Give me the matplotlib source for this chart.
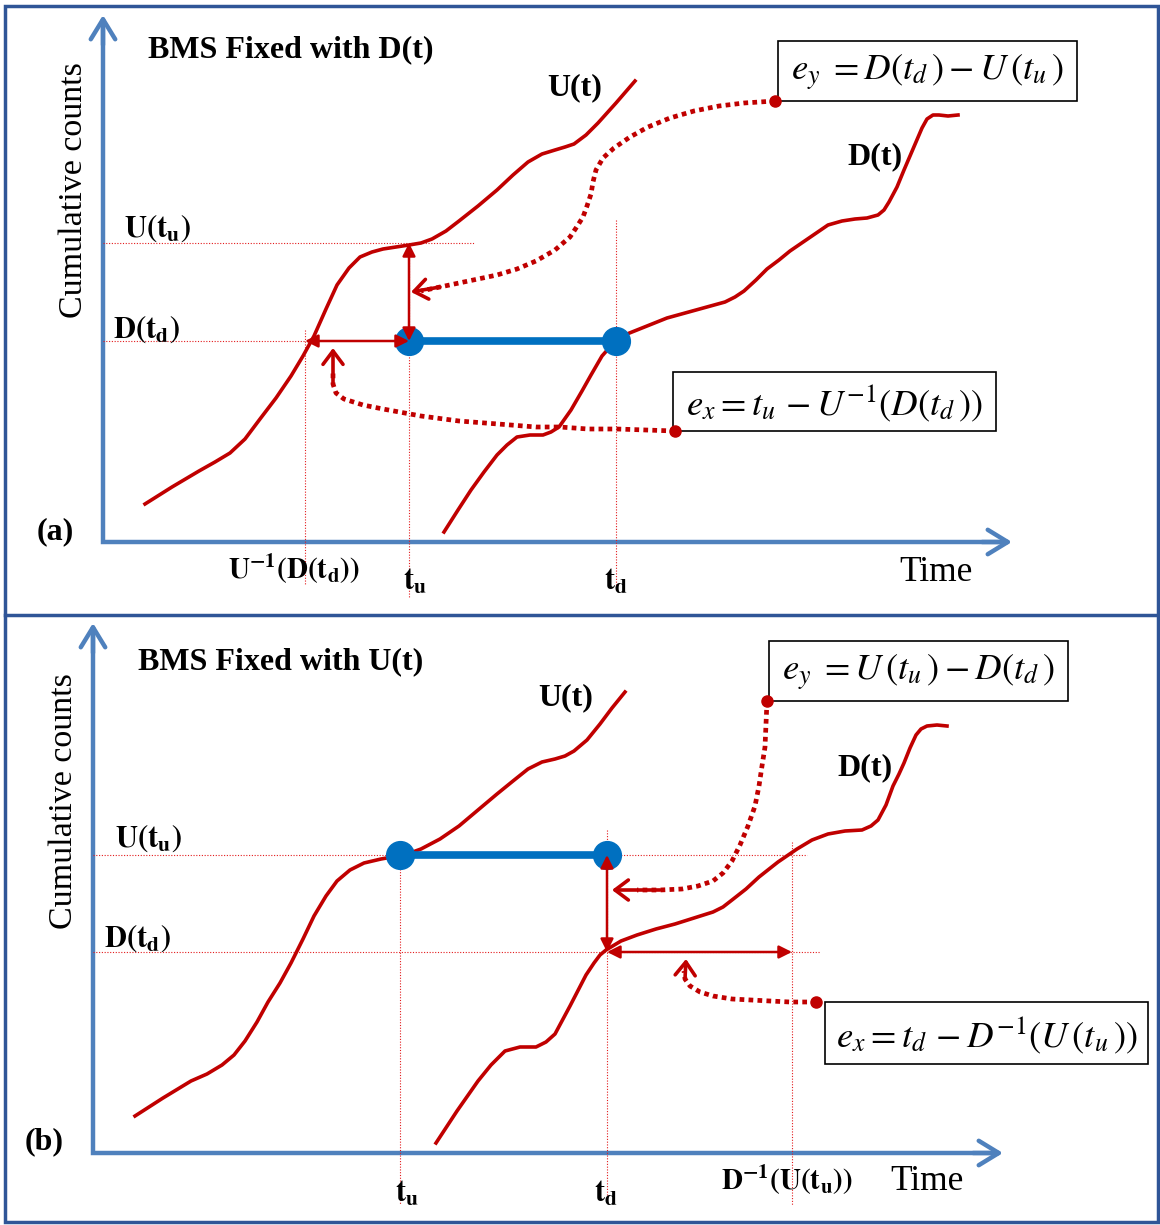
import matplotlib.pyplot as plt
from matplotlib.patches import Rectangle

# ---- curve points (pixel space, y down) ----
# panel (a)
ua_x = [145, 172, 199, 215, 230, 245, 260, 276, 291, 303, 314, 326, 337, 349, 360, 372, 383, 396, 409, 421, 432, 446, 459, 478, 497, 513, 528, 542, 555, 565, 574, 586, 598, 616, 635]
ua_y = [504, 487, 471, 462, 453, 439, 419, 398, 376, 356, 336, 309, 285, 268, 257, 252, 249, 247, 245, 243, 239, 231, 221, 206, 190, 175, 162, 154, 150, 147, 144, 135, 123, 103, 81]
da_x = [444, 458, 471, 484, 497, 507, 517, 530, 543, 551, 559, 571, 582, 591, 602, 610, 617, 627, 637, 652, 667, 696, 725, 735, 744, 756, 767, 779, 790, 809, 828, 842, 855, 867, 878, 884, 889, 897, 904, 910, 916, 922, 927, 933, 939, 948, 958]
da_y = [532, 510, 490, 472, 455, 445, 437, 435, 435, 432, 427, 410, 391, 375, 356, 347, 340, 334, 330, 324, 318, 310, 302, 297, 291, 280, 269, 260, 251, 238, 225, 221, 219, 218, 215, 210, 202, 187, 170, 156, 142, 128, 119, 115, 115, 116, 115]
# panel (b)
ub_x = [135, 163, 191, 207, 222, 234, 245, 257, 268, 280, 291, 303, 314, 326, 337, 350, 364, 381, 398, 410, 421, 440, 459, 478, 497, 513, 528, 542, 555, 565, 574, 587, 600, 612, 625]
ub_y = [1116, 1098, 1081, 1074, 1065, 1055, 1041, 1022, 1002, 983, 963, 939, 916, 896, 881, 870, 863, 859, 856, 853, 849, 839, 826, 810, 794, 781, 769, 762, 759, 756, 751, 740, 724, 708, 692]
db_x = [436, 457, 478, 491, 505, 520, 536, 546, 555, 570, 586, 594, 600, 606, 621, 637, 656, 675, 694, 713, 723, 732, 746, 759, 778, 797, 812, 828, 845, 862, 871, 878, 886, 893, 899, 904, 910, 916, 921, 927, 937, 947]
db_y = [1143, 1111, 1081, 1065, 1051, 1047, 1047, 1042, 1034, 1006, 975, 963, 955, 950, 941, 935, 929, 924, 918, 912, 907, 900, 889, 877, 862, 849, 840, 834, 831, 830, 826, 820, 805, 786, 774, 763, 748, 735, 729, 726, 725, 726]

# dotted connector paths (from the box dot to the arrow tip)
cya_x = [775, 744, 719, 694, 670, 648, 630, 614, 603, 596, 593, 591, 587, 583, 576, 570, 555, 536, 517, 497, 478, 459, 440, 421, 411]
cya_y = [101, 103, 106, 111, 118, 127, 137, 148, 158, 170, 182, 194, 206, 217, 228, 237, 250, 261, 269, 275, 279, 283, 287, 291, 292]
cxa_x = [675, 646, 617, 588, 560, 536, 498, 459, 421, 383, 363, 344, 336, 333, 333, 333]
cxa_y = [431, 430, 429, 429, 427, 427, 424, 421, 416, 409, 405, 399, 393, 384, 370, 348]
cyb_x = [767, 766, 765, 762, 759, 755, 748, 740, 732, 723, 713, 698, 682, 660, 637, 612]
cyb_y = [701, 724, 747, 766, 786, 806, 826, 845, 861, 873, 881, 886, 889, 890, 890, 890]
cxb_x = [816, 790, 770, 751, 732, 713, 700, 690, 685, 684, 686]
cxb_y = [1002, 1002, 1001, 1000, 999, 996, 992, 986, 979, 971, 959]

# key levels / times
a_Utu, a_Dtd, a_inv, a_tu, a_td = 243, 341, 305, 409, 616
b_Utu, b_Dtd, b_tu, b_td, b_inv = 855, 952, 400, 607, 792

red = '#C00000'
ref_red = '#E31A1C'
blue = '#0070C0'
axblue = '#4F81BD'
frame = '#2F5597'

plt.rcParams['mathtext.fontset'] = 'stix'
serif = ['Liberation Serif', 'DejaVu Serif']

fig = plt.figure(figsize=(11.6, 12.25), dpi=100)
ax = fig.add_axes([0, 0, 1, 1])
ax.set_xlim(0, 1160)
ax.set_ylim(1225, 0)
ax.axis('off')

# outer frame and divider
ax.add_patch(Rectangle((5, 6), 1153, 1216, fill=False, ec=frame, lw=2.5))
ax.plot([5, 1158], [615, 615], color=frame, lw=2.5)


def axes_arrows(x0, y0, ytop, xright):
    ax.plot([x0, x0, xright - 4], [ytop + 4, y0, y0], color=axblue, lw=3.2,
            solid_joinstyle='miter', solid_capstyle='butt')
    st = '->,head_length=0.9,head_width=0.55'
    ax.annotate('', xy=(x0, ytop), xytext=(x0, ytop + 30),
                arrowprops=dict(arrowstyle=st, color=axblue, lw=3.2,
                                mutation_scale=16, shrinkA=0, shrinkB=0))
    ax.annotate('', xy=(xright, y0), xytext=(xright - 30, y0),
                arrowprops=dict(arrowstyle=st, color=axblue, lw=3.2,
                                mutation_scale=16, shrinkA=0, shrinkB=0))


def ref(xs, ys):
    ax.plot(xs, ys, color=ref_red, lw=0.8, ls=(0, (1, 1.5)))


def solid_arrow(p0, p1):
    ax.annotate('', xy=p1, xytext=p0,
                arrowprops=dict(arrowstyle='<|-|>,head_length=0.7,head_width=0.35',
                                color=red, lw=1.8, mutation_scale=11,
                                shrinkA=0, shrinkB=0))


def connector(xs, ys):
    ax.plot(xs[:-1], ys[:-1], color=red, lw=3.4, ls=(0, (1, 0.9)),
            dash_capstyle='butt')
    ax.plot(xs[0], ys[0], 'o', color=red, ms=8)
    ax.annotate('', xy=(xs[-1], ys[-1]), xytext=(xs[-3], ys[-3]),
                arrowprops=dict(arrowstyle='->,head_length=0.6,head_width=0.45',
                                color=red, lw=2.6, mutation_scale=16,
                                shrinkA=0, shrinkB=0))


def eqbox(x0, y0, x1, y1, s):
    ax.add_patch(Rectangle((x0, y0), x1 - x0, y1 - y0, fill=False, ec='black', lw=1.2))
    ax.text((x0 + x1) / 2, (y0 + y1) / 2 + 2, s, fontsize=26.5, ha='center', va='center')


def bold(x, y, s, size=23, va='baseline'):
    ax.text(x, y, s, fontsize=size, fontweight='bold', family=serif, ha='left', va=va)


# ================= panel (a) =================
axes_arrows(103, 542, 15, 1012)
ref([103, 475], [a_Utu, a_Utu])
ref([103, a_inv], [a_Dtd, a_Dtd])
ref([a_inv, a_inv], [330, 585])
ref([a_tu, a_tu], [a_Utu, 598])
ref([a_td, a_td], [220, 590])

ax.plot(ua_x, ua_y, color=red, lw=2.6, solid_joinstyle='round')
ax.plot(da_x, da_y, color=red, lw=2.6, solid_joinstyle='round')

ax.plot([a_tu, a_td], [a_Dtd, a_Dtd], color=blue, lw=5.5, marker='o', ms=20)
solid_arrow((a_tu, a_Dtd), (a_tu, a_Utu))
solid_arrow((a_inv, a_Dtd), (a_tu, a_Dtd))
connector(cya_x, cya_y)
connector(cxa_x, cxa_y)

eqbox(778, 41, 1077, 101, r'$e_y\;=D(t_d\,)-U\,(t_u\,)$')
eqbox(673, 372, 996, 431, r'$e_x=t_u\,-U^{-1}(D(t_d\,))$')

bold(148, 50, 'BMS Fixed with D(t)', va='center')
ax.text(74, 190, 'Cumulative counts', fontsize=24.5, family=serif, rotation=90,
        ha='center', va='center')
bold(547, 88, 'U(t)', va='center')
bold(847, 157, 'D(t)', va='center')
bold(124, 237, r'$\mathbf{U(t_u)}$', size=22)
bold(113, 338, r'$\mathbf{D(t_d)}$', size=22)
bold(37, 532, '(a)', va='center')
bold(228, 579, r'$\mathbf{U^{-1}(D(t_d))}$', size=21)
bold(403, 589, r'$\mathbf{t_u}$', size=22)
bold(604, 589, r'$\mathbf{t_d}$', size=22)
ax.text(899, 581, 'Time', fontsize=25.5, family=serif, ha='left', va='baseline')

# ================= panel (b) =================
axes_arrows(93, 1153, 623, 1003)
ref([93, 807], [b_Utu, b_Utu])
ref([93, 820], [b_Dtd, b_Dtd])
ref([b_tu, b_tu], [b_Utu, 1205])
ref([b_td, b_td], [830, 1200])
ref([b_inv, b_inv], [842, 1205])

ax.plot(ub_x, ub_y, color=red, lw=2.6, solid_joinstyle='round')
ax.plot(db_x, db_y, color=red, lw=2.6, solid_joinstyle='round')

ax.plot([b_tu, b_td], [b_Utu, b_Utu], color=blue, lw=5.5, marker='o', ms=20)
solid_arrow((b_td, b_Dtd), (b_td, b_Utu))
solid_arrow((b_td, b_Dtd), (b_inv, b_Dtd))
connector(cyb_x, cyb_y)
connector(cxb_x, cxb_y)

eqbox(769, 641, 1068, 701, r'$e_y\;=U\,(t_u\,)-D(t_d\,)$')
eqbox(825, 1002, 1148, 1064, r'$e_x=t_d\,-D^{-1}(U\,(t_u\,))$')

bold(138, 662, 'BMS Fixed with U(t)', va='center')
ax.text(64, 801, 'Cumulative counts', fontsize=24.5, family=serif, rotation=90,
        ha='center', va='center')
bold(538, 698, 'U(t)', va='center')
bold(837, 768, 'D(t)', va='center')
bold(115, 847, r'$\mathbf{U(t_u)}$', size=22)
bold(104, 947, r'$\mathbf{D(t_d)}$', size=22)
bold(25, 1142, '(b)', va='center')
bold(395, 1202, r'$\mathbf{t_u}$', size=22)
bold(594, 1202, r'$\mathbf{t_d}$', size=22)
bold(721, 1190, r'$\mathbf{D^{-1}(U(t_u))}$', size=21)
ax.text(890, 1190, 'Time', fontsize=25.5, family=serif, ha='left', va='baseline')

fig.savefig('out.png', dpi=100)
